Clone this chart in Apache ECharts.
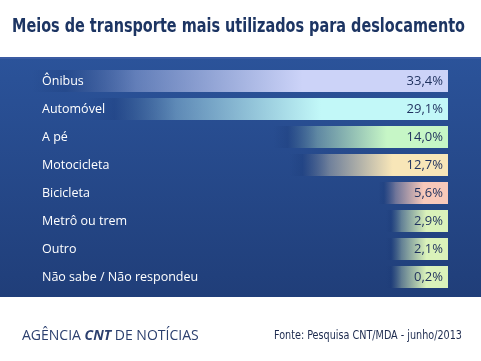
<!DOCTYPE html>
<html><head><meta charset="utf-8">
<script src="https://cdn.jsdelivr.net/npm/echarts@6/dist/echarts.min.js"></script>
<style>html,body{margin:0;padding:0;background:#fff}#c{width:481px;height:361px}</style>
</head><body><div id="c"></div>
<script>
var categories = ['Ônibus','Automóvel','A pé','Motocicleta','Bicicleta','Metrô ou trem','Outro','Não sabe / Não respondeu'];
var values = [33.4, 29.1, 14.0, 12.7, 5.6, 2.9, 2.1, 0.2];
var titleText = 'Meios de transporte mais utilizados para deslocamento';
var sourceText = 'Fonte: Pesquisa CNT/MDA - junho/2013';

var barColors = ['#ccd3f8','#c2f8f8','#c6f6c6','#f8e6b8','#f8c9ba','#daf2ba','#daf2ba','#daf2ba'];
function hexA(h,a){var r=parseInt(h.substr(1,2),16),g=parseInt(h.substr(3,2),16),b=parseInt(h.substr(5,2),16);return 'rgba('+r+','+g+','+b+','+a+')';}
var mctx = document.createElement('canvas').getContext('2d');
function fitScale(text, font, target){mctx.font = font; return target / mctx.measureText(text).width;}
var titleFont = 'bold 19px "DejaVu Sans Condensed"';
var srcFont = '13px "DejaVu Sans Condensed"';
var titleScale = fitScale(titleText, titleFont, 453);
var srcScale = fitScale(sourceText, srcFont, 188);

var chart = echarts.init(document.getElementById('c'), null, {renderer:'canvas'});
chart.setOption({
  animation:false,
  backgroundColor:'#ffffff',
  graphic:[
    {type:'rect',z:-10,shape:{x:0,y:57,width:481,height:240},style:{fill:new echarts.graphic.LinearGradient(0,0,0,1,[{offset:0,color:'#2b539a'},{offset:1,color:'#203e79'}])}},
    {type:'rect',z:-9,shape:{x:0,y:57,width:481,height:2},style:{fill:'#3a5ba2'}},
    {type:'text',x:12,y:27,scaleX:titleScale,style:{text:titleText,font:titleFont,fill:'#1d3563',verticalAlign:'middle',align:'left'}},
    {type:'text',x:22,y:336,style:{text:'{a|AGÊNCIA }{b|CNT}{a| DE NOTÍCIAS}',verticalAlign:'middle',align:'left',rich:{a:{fontFamily:'Open Sans',fontSize:14,fill:'#2b3f6e'},b:{fontFamily:'Open Sans',fontSize:14,fontWeight:'bold',fontStyle:'italic',fill:'#2b3f6e'}}}},
    {type:'text',x:462,y:336,scaleX:srcScale,originX:0,style:{text:sourceText,font:srcFont,fill:'#1d2b4f',verticalAlign:'middle',align:'right'}}
  ],
  grid:{left:32,right:33,top:67,height:224},
  xAxis:{type:'value',inverse:true,min:0,max:function(v){return v.max;},show:false},
  yAxis:{type:'category',data:categories,inverse:true,axisLine:{show:false},axisTick:{show:false},
    axisLabel:{inside:true,margin:10,color:'#ffffff',fontFamily:'Open Sans',fontSize:12.5,align:'left'},z:5},
  series:[{type:'bar',data:values,barWidth:22,barMinHeight:62,
    itemStyle:{color:function(p){var c=barColors[p.dataIndex];return new echarts.graphic.LinearGradient(1,0,0,0,[{offset:0,color:c},{offset:0.35,color:c},{offset:0.75,color:hexA(c,0.35)},{offset:0.92,color:'rgba(25,55,115,0.25)'},{offset:1,color:'rgba(25,55,115,0)'}]);}},
    label:{show:true,position:'insideRight',distance:5,color:'#1f315e',fontFamily:'Open Sans',fontSize:13,
      formatter:function(p){return p.value.toFixed(1).replace('.',',')+'%';}}
  }]
});
</script></body></html>
